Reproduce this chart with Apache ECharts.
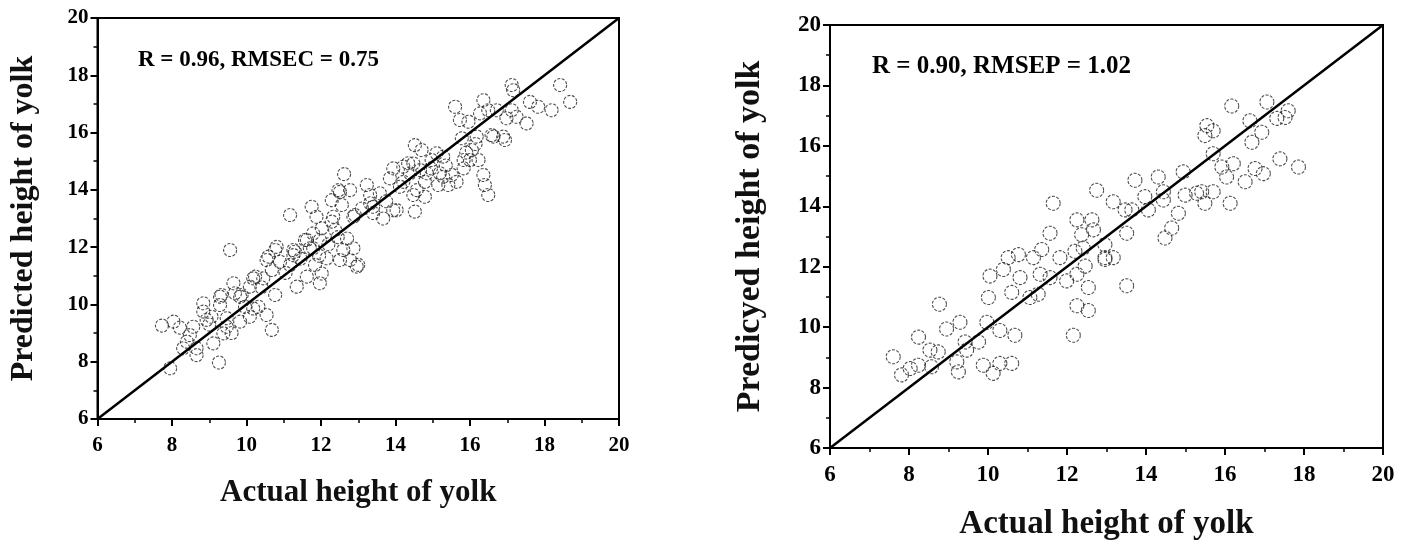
<!DOCTYPE html>
<html>
<head>
<meta charset="utf-8">
<script src="https://cdn.jsdelivr.net/npm/echarts@6/dist/echarts.min.js"></script>
<style>
html, body { margin: 0; padding: 0; background: #fff; }
#chart { width: 1412px; height: 546px; }
</style>
</head>
<body>
<div id="chart"></div>
<script>
// calibration set (left panel)
var calActual = [7.73, 8.04, 8.21, 8.57, 8.48, 8.30, 8.66, 7.95, 9.26, 9.11,
    9.38, 9.06, 8.84, 8.84, 9.29, 9.33, 9.65, 9.69, 9.87, 10.09,
    10.23, 10.45, 9.56, 9.47, 9.83, 10.09, 9.96, 10.32, 10.54, 10.68,
    10.77, 10.59, 10.77, 10.68, 10.90, 11.17, 11.30, 11.17, 11.35, 11.62,
    11.57, 11.79, 11.97, 12.02, 11.75, 11.88, 12.02, 11.97, 11.84, 12.15,
    12.29, 12.38, 12.51, 12.56, 12.60, 12.51, 12.78, 12.87, 13.00, 12.91,
    13.23, 13.40, 8.93, 8.66, 9.47, 10.18, 10.54, 11.26, 11.70, 12.96,
    9.29, 9.83, 10.18, 12.29, 12.33, 12.87, 11.79, 11.26, 10.81, 11.62,
    12.62, 12.47, 12.78, 13.32, 13.94, 13.32, 13.40, 13.58, 13.67, 14.03,
    14.52, 14.79, 14.48, 14.57, 14.79, 15.42, 15.15, 15.51, 15.28, 14.66,
    14.21, 13.85, 14.21, 13.94, 14.34, 14.48, 14.12, 14.39, 14.84, 15.19,
    15.64, 16.49, 16.40, 16.36, 15.83, 16.23, 15.83, 16.05, 15.28, 14.97,
    15.10, 14.70, 14.52, 15.78, 16.18, 16.58, 16.94, 16.63, 16.72, 16.27,
    15.96, 15.73, 15.60, 16.49, 16.36, 17.12, 16.98, 17.25, 17.52, 17.61,
    17.83, 18.19, 18.69, 18.42, 17.16, 17.12, 16.00, 16.89,
    8.40, 9.00, 9.60, 10.40, 11.05, 11.45, 12.20, 12.70, 13.10, 13.75,
    14.95, 15.35, 15.90, 16.15, 11.95, 12.45];
var calPredicted = [9.26, 9.40, 9.19, 9.22, 8.93, 8.47, 8.47, 7.77, 7.97, 8.64,
    8.99, 9.57, 10.04, 9.75, 9.98, 10.33, 10.74, 10.39, 10.33, 10.62,
    10.97, 10.91, 11.90, 9.22, 9.40, 9.57, 9.92, 9.92, 9.63, 9.11,
    10.33, 11.67, 11.90, 11.20, 11.49, 13.12, 11.84, 11.38, 10.62, 10.97,
    12.25, 11.96, 12.25, 12.66, 13.41, 13.06, 11.08, 10.74, 11.38, 11.61,
    12.89, 12.60, 13.93, 13.47, 11.90, 11.55, 11.55, 11.96, 11.38, 13.12,
    14.17, 13.19, 9.46, 8.23, 9.52, 10.91, 11.55, 11.72, 11.96, 11.32,
    10.27, 10.27, 9.86, 13.64, 13.06, 13.06, 12.48, 11.90, 12.01, 12.25,
    14.55, 13.99, 13.99, 13.53, 13.29, 13.82, 13.41, 13.88, 13.00, 13.29,
    13.24, 13.76, 13.82, 13.99, 14.28, 14.17, 14.17, 14.52, 14.46, 14.69,
    14.28, 14.40, 14.81, 14.75, 14.93, 14.92, 14.11, 14.58, 14.58, 14.58,
    14.28, 13.82, 14.17, 14.52, 14.75, 15.04, 15.04, 15.39, 15.16, 15.04,
    15.28, 15.39, 15.56, 15.80, 15.86, 15.91, 15.74, 15.86, 16.78, 16.67,
    16.38, 16.44, 16.90, 16.78, 17.13, 16.78, 16.50, 16.55, 16.32, 17.07,
    16.90, 16.78, 17.07, 17.66, 17.48, 17.66, 15.04, 15.86,
    8.70, 9.30, 9.00, 10.60, 11.10, 11.60, 12.10, 12.30, 13.35, 13.60,
    14.75, 14.85, 15.30, 15.60, 11.70, 12.35];

// prediction set (right panel)
var valActual = [7.60, 7.81, 8.03, 8.24, 8.24, 8.53, 8.74, 8.57, 8.77, 8.95,
    9.29, 9.21, 9.25, 9.42, 9.46, 9.76, 9.97, 9.88, 10.13, 10.30,
    10.60, 10.30, 10.68, 10.01, 10.05, 10.39, 10.51, 10.77, 10.81, 10.60,
    11.06, 11.27, 11.15, 11.36, 11.32, 11.57, 11.82, 11.99, 12.25, 12.46,
    12.20, 12.41, 12.54, 12.25, 12.54, 12.16, 11.57, 11.65, 12.25, 12.63,
    12.67, 12.37, 12.75, 12.96,
    16.17, 17.06, 16.63, 17.31, 17.60, 17.52, 15.54, 15.70, 15.49, 16.93,
    16.68, 15.70, 15.92, 16.21, 16.04, 16.51, 16.76, 16.97, 17.39, 17.86,
    16.13, 15.70, 15.41, 15.49, 15.28, 14.94, 14.99, 14.82, 14.65, 14.48,
    14.31, 14.44, 14.44, 13.97, 14.06, 13.72, 13.17, 13.47, 13.64, 13.51,
    12.96, 13.17, 12.96, 13.51];
var valPredicted = [9.02, 8.42, 8.63, 8.74, 9.67, 9.24, 9.18, 8.69, 10.76, 9.94,
    10.16, 8.85, 8.52, 9.51, 9.24, 9.51, 10.16, 8.74, 8.47, 8.80,
    8.80, 9.89, 9.73, 10.98, 11.69, 11.91, 12.30, 12.40, 11.64, 11.15,
    10.98, 11.09, 12.30, 12.57, 11.75, 11.64, 12.30, 11.53, 11.75, 12.02,
    12.51, 12.62, 11.31, 10.71, 10.55, 9.73, 13.11, 14.10, 13.55, 13.55,
    13.22, 13.06, 14.53, 12.30,
    17.32, 17.45, 16.83, 16.91, 17.16, 16.94, 16.67, 16.50, 16.34, 16.45,
    16.12, 15.74, 15.30, 15.41, 14.97, 14.81, 15.25, 15.08, 15.57, 15.30,
    14.10, 14.48, 14.48, 14.10, 14.43, 15.14, 14.37, 13.77, 13.28, 12.95,
    14.97, 14.48, 14.21, 14.32, 13.88, 14.86, 14.15, 13.88, 13.88, 13.11,
    12.73, 12.30, 12.24, 11.37];

var axisMin = 6;
var axisMax = 20;
var axisStep = 2;
var identityLine = [6, 20];
var calLabel = 'R = 0.96, RMSEC = 0.75';
var valLabel = 'R = 0.90, RMSEP = 1.02';

var serif = '"Liberation Serif", "DejaVu Serif", serif';

var zip = function (xs, ys) {
    var out = [];
    for (var i = 0; i < xs.length; i++) {
        out.push([xs[i], ys[i]]);
    }
    return out;
};

var makeAxis = function (grid, name, nameSize, nameGap, labelSize, labelMargin) {
    return {
        gridIndex: grid,
        type: 'value',
        min: axisMin,
        max: axisMax,
        interval: axisStep,
        name: name,
        nameLocation: 'middle',
        nameGap: nameGap,
        nameTextStyle: { fontFamily: serif, fontWeight: 'bold', fontSize: nameSize, color: '#111' },
        axisLine: { show: true, onZero: false, lineStyle: { color: '#000', width: 2 } },
        axisTick: { show: true, length: 7, lineStyle: { color: '#000', width: 2 } },
        minorTick: { show: true, splitNumber: 2, length: 4, lineStyle: { color: '#000', width: 1.5 } },
        axisLabel: { fontFamily: serif, fontWeight: 'bold', fontSize: labelSize, color: '#000', margin: labelMargin },
        splitLine: { show: false }
    };
};

var pointStyle = {
    color: 'rgba(255,255,255,0)',
    borderColor: '#222',
    borderWidth: 1.1,
    borderType: [3, 1.5]
};

var lineSeries = function (idx) {
    return {
        type: 'line',
        xAxisIndex: idx,
        yAxisIndex: idx,
        data: [[identityLine[0], identityLine[0]], [identityLine[1], identityLine[1]]],
        symbol: 'none',
        lineStyle: { color: '#000', width: 2.5 },
        z: 3,
        silent: true
    };
};

var myChart = echarts.init(document.getElementById('chart'));
var option = {
    animation: false,
    backgroundColor: '#fff',
    grid: [
        { left: 97.5, top: 18, width: 521.5, height: 401, show: true, borderColor: '#000', borderWidth: 2 },
        { left: 830, top: 25, width: 553, height: 427, show: true, borderColor: '#000', borderWidth: 2 }
    ],
    xAxis: [
        makeAxis(0, 'Actual height of yolk', 31, 58, 21, 16),
        makeAxis(1, 'Actual height of yolk', 33, 60, 23, 16)
    ],
    yAxis: [
        makeAxis(0, 'Predicted height of yolk', 32, 58, 21, 9),
        makeAxis(1, 'Predicyed height of yolk', 34, 63, 23, 9)
    ],
    graphic: [
        { type: 'text', left: 138, top: 49, style: { text: calLabel, font: 'bold 23px ' + serif, fill: '#000' } },
        { type: 'text', left: 872, top: 54, style: { text: valLabel, font: 'bold 25px ' + serif, fill: '#000' } }
    ],
    series: [
        {
            type: 'scatter',
            xAxisIndex: 0,
            yAxisIndex: 0,
            data: zip(calActual, calPredicted),
            symbol: 'circle',
            symbolSize: 13,
            itemStyle: pointStyle,
            z: 2
        },
        lineSeries(0),
        {
            type: 'scatter',
            xAxisIndex: 1,
            yAxisIndex: 1,
            data: zip(valActual, valPredicted),
            symbol: 'circle',
            symbolSize: 14,
            itemStyle: pointStyle,
            z: 2
        },
        lineSeries(1)
    ]
};
myChart.setOption(option);
</script>
</body>
</html>
